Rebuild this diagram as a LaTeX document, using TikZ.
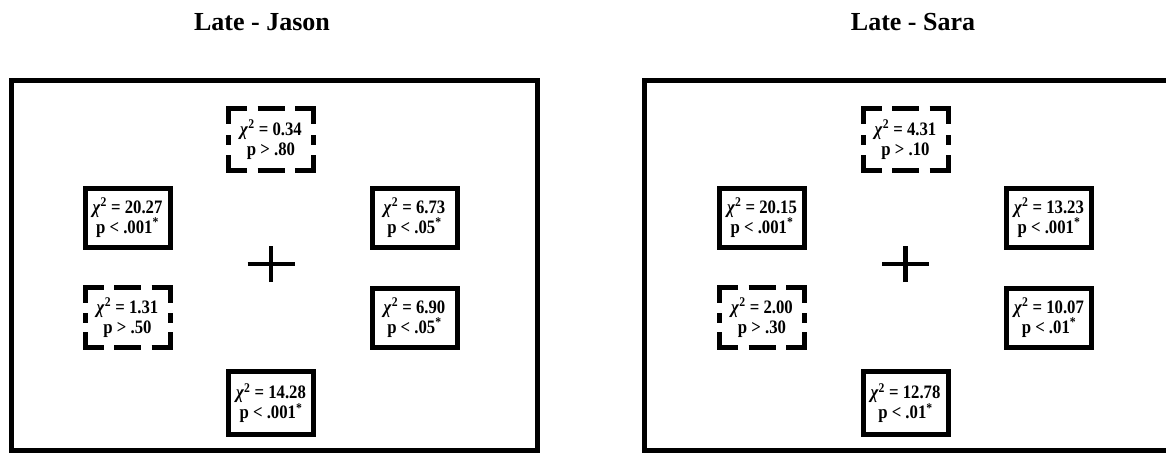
\documentclass[tikz,border=0pt]{standalone}
\usepackage{fontspec}
\setmainfont{Liberation Serif}
\newfontfamily\cellfont{Liberation Serif}[FakeStretch=0.88]
\usetikzlibrary{positioning,calc}
\tikzset{
    base/.style={align=center, inner sep=0pt, outer sep=0pt},
    heading/.style={base, anchor=base, font=\fontsize{26}{30}\selectfont\bfseries},
    screen/.style={base, rectangle, draw, line width=5pt,
                   minimum width=526pt, minimum height=370pt},
    cell/.style={base, rectangle, font=\cellfont\fontsize{19}{20}\selectfont\bfseries,
                 minimum width=85pt, minimum height=59pt},
    sig/.style={cell, draw, line width=5pt},
    nonsig/.style={cell},
    brokenline/.style={line width=5pt},
    fixation/.style={line width=4.5pt}
}
% broken border of a non-significant cell
\newcommand{\brokenframe}[1]{%
  \foreach \c/\sx/\sy in {north west/1/-1, north east/-1/-1, south west/1/1, south east/-1/1}
    \draw[brokenline] ([xshift=\sx*18.5pt]#1.\c) -- (#1.\c) -- ([yshift=\sy*15.5pt]#1.\c);
  \draw[brokenline] ([xshift=-13.5pt]#1.north) -- ([xshift=13.5pt]#1.north);
  \draw[brokenline] ([xshift=-13.5pt]#1.south) -- ([xshift=13.5pt]#1.south);
  \draw[brokenline] ([yshift=-5pt]#1.west) -- ([yshift=5pt]#1.west);
  \draw[brokenline] ([yshift=-5pt]#1.east) -- ([yshift=5pt]#1.east);
}
\newcommand{\chisq}{\textit{χ}\textsuperscript{2}}

\begin{document}
\begin{tikzpicture}[x=1pt, y=-1pt]
  \useasboundingbox (0,0) rectangle (1166,453);

  % Titles
  \node[heading] (jtitle) at (262,30) {Late - Jason};
  \node[heading] (stitle) at (913,30) {Late - Sara};

  % Screens
  \node[screen] (jscreen) at (274.5,265.5) {};
  \node[screen] (sscreen) at (907.5,265.5) {};

  % Jason panel
  \coordinate (jfix) at (271,264);
  \draw[fixation] ([xshift=-23.5pt]jfix) -- ([xshift=23.5pt]jfix);
  \draw[fixation] ([yshift=-18pt]jfix) -- ([yshift=18pt]jfix);
  \node[nonsig, minimum height=62pt] (jtop) at ($(jfix)+(0,-124.5)$) {\chisq{} = 0.34\\p > .80};
  \node[sig] (jul) at ($(jfix)+(-143.5,-46.5)$) {\chisq{} = 20.27\\p < .001\textsuperscript{*}};
  \node[sig] (jur) at ($(jfix)+(143.5,-46.5)$) {\chisq{} = 6.73\\p < .05\textsuperscript{*}};
  \node[nonsig, minimum height=60pt] (jll) at ($(jfix)+(-143.5,53.5)$) {\chisq{} = 1.31\\p > .50};
  \node[sig] (jlr) at ($(jfix)+(143.5,53.5)$) {\chisq{} = 6.90\\p < .05\textsuperscript{*}};
  \node[sig, minimum height=63pt] (jbot) at ($(jfix)+(0,139)$) {\chisq{} = 14.28\\p < .001\textsuperscript{*}};
  \brokenframe{jtop}
  \brokenframe{jll}

  % Sara panel
  \coordinate (sfix) at (905.5,264);
  \draw[fixation] ([xshift=-23.5pt]sfix) -- ([xshift=23.5pt]sfix);
  \draw[fixation] ([yshift=-18pt]sfix) -- ([yshift=18pt]sfix);
  \node[nonsig, minimum height=62pt] (stop) at ($(sfix)+(0,-124.5)$) {\chisq{} = 4.31\\p > .10};
  \node[sig] (sul) at ($(sfix)+(-143.5,-46.5)$) {\chisq{} = 20.15\\p < .001\textsuperscript{*}};
  \node[sig] (sur) at ($(sfix)+(143.5,-46.5)$) {\chisq{} = 13.23\\p < .001\textsuperscript{*}};
  \node[nonsig, minimum height=60pt] (sll) at ($(sfix)+(-143.5,53.5)$) {\chisq{} = 2.00\\p > .30};
  \node[sig] (slr) at ($(sfix)+(143.5,53.5)$) {\chisq{} = 10.07\\p < .01\textsuperscript{*}};
  \node[sig, minimum height=63pt] (sbot) at ($(sfix)+(0,139)$) {\chisq{} = 12.78\\p < .01\textsuperscript{*}};
  \brokenframe{stop}
  \brokenframe{sll}
\end{tikzpicture}
\end{document}
